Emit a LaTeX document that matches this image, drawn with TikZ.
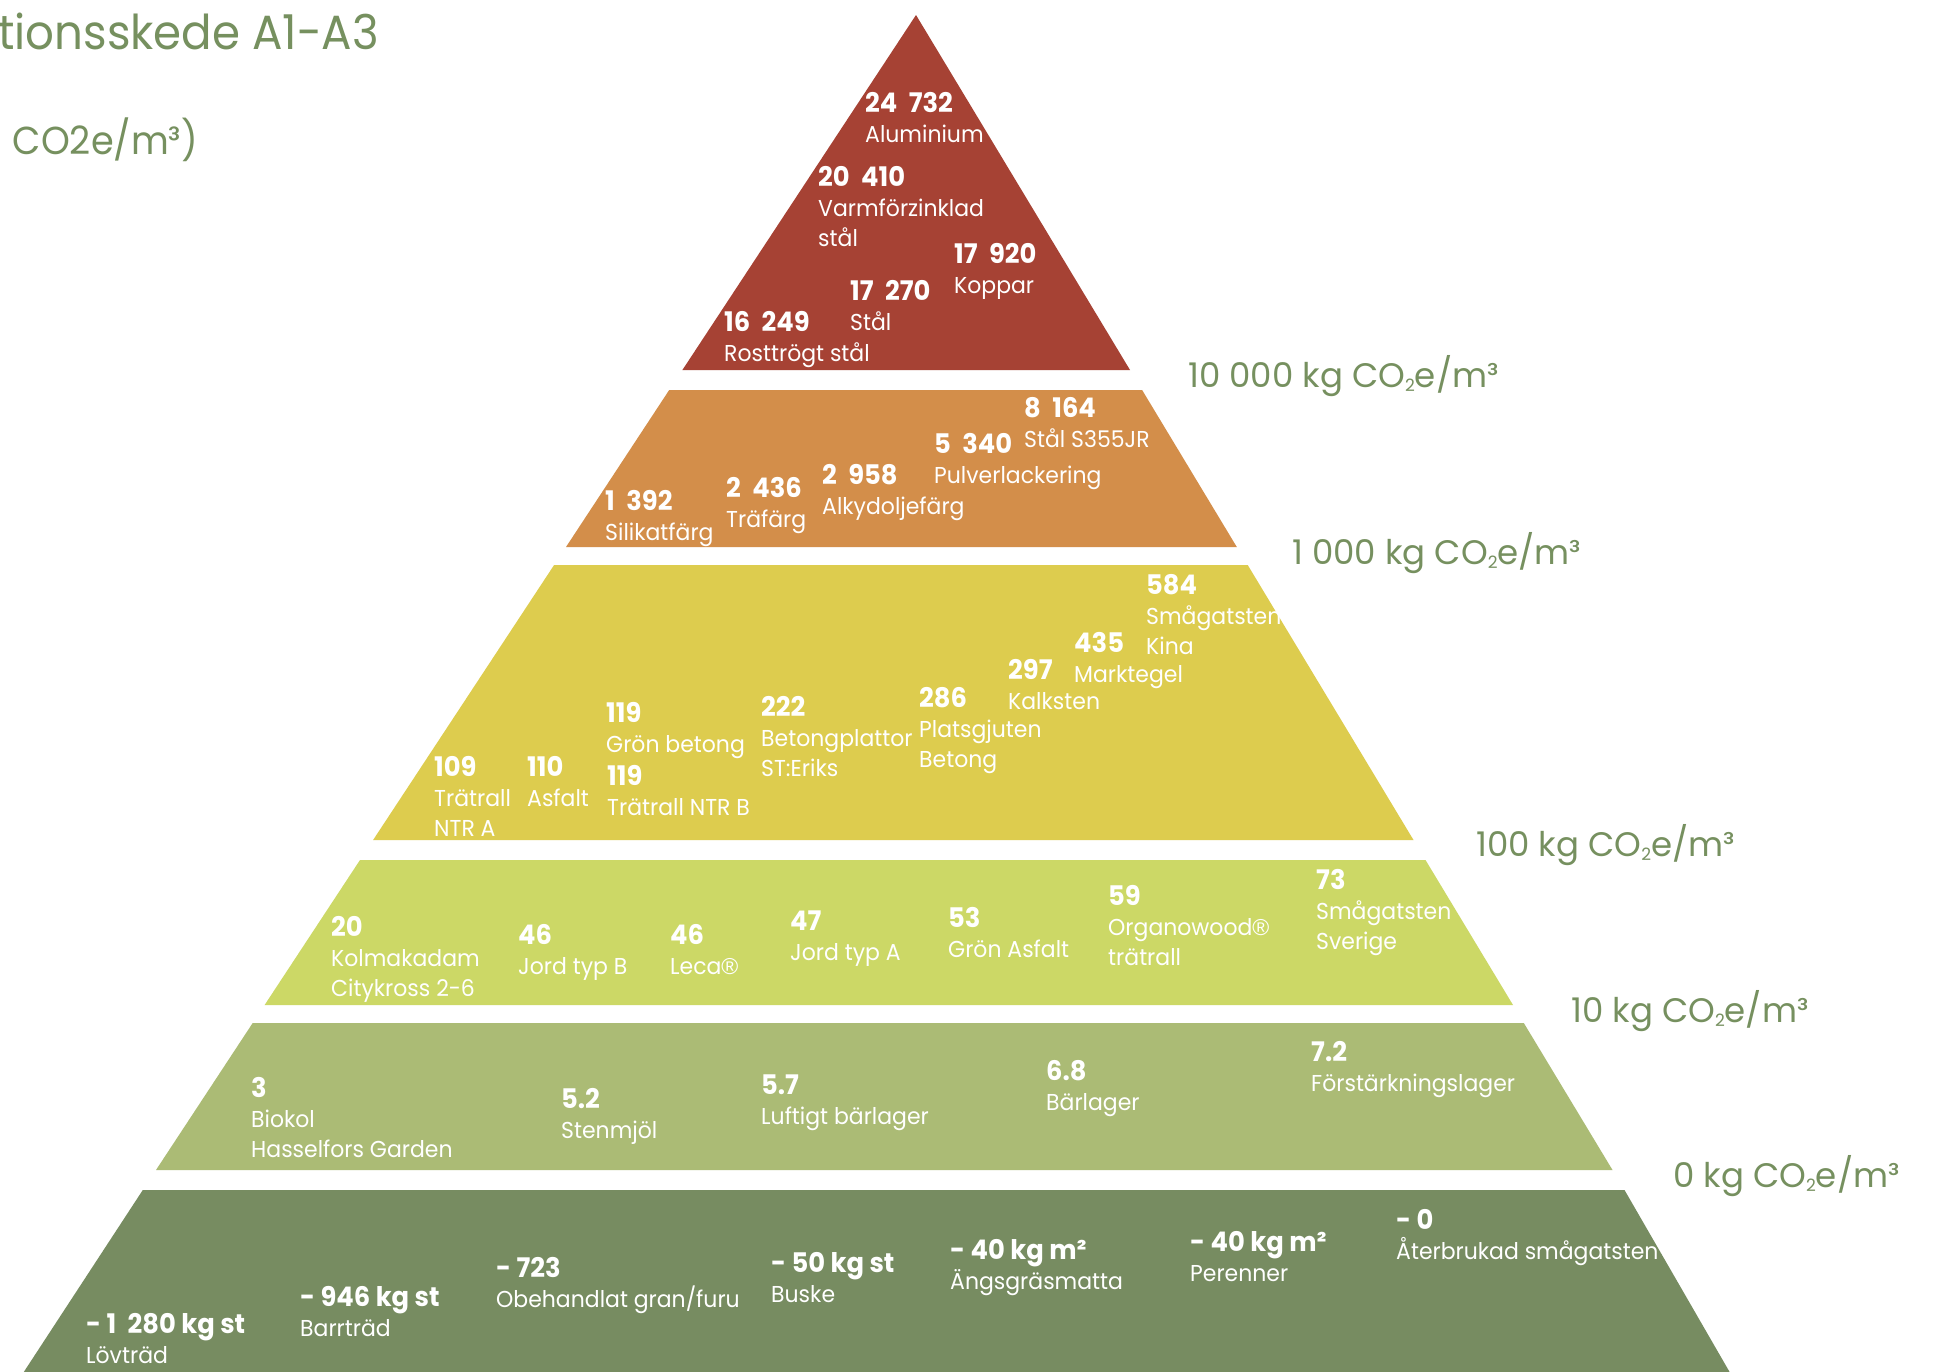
\documentclass[tikz,border=0pt]{standalone}
\usepackage{fontspec}
\setmainfont{Poppins}
\newfontfamily\namefont{Poppins}[FakeStretch=0.955]
\newfontfamily\titlefont{Poppins}[FakeStretch=0.94]
\newfontfamily\regfont{Liberation Sans}
\definecolor{cred}{HTML}{A64234}
\definecolor{corange}{HTML}{D38E4A}
\definecolor{cyellow}{HTML}{DDCC4E}
\definecolor{clight}{HTML}{CCD866}
\definecolor{csage}{HTML}{ABBB75}
\definecolor{cdark}{HTML}{778C61}
\definecolor{cgreentext}{HTML}{76905F}
\newcommand{\cotwo}{CO\raisebox{-0.12em}{\fontsize{17}{17}\selectfont 2}}
\newcommand{\ts}{\ \kern0.22em}
\newcommand{\nm}[1]{{\fontsize{27}{30}\selectfont\bfseries #1}}
\newcommand{\reg}{{\regfont ®}}
\begin{document}
\begin{tikzpicture}[x=1pt,y=-1pt,
  lbl/.style={anchor=north west, inner sep=0pt, align=left, text=white, font=\namefont\fontsize{23}{30}\selectfont},
  scalelbl/.style={anchor=west, inner sep=0pt, text=cgreentext, font=\fontsize{34}{40}\selectfont},
  titlelbl/.style={anchor=west, inner sep=0pt, text=cgreentext}]
\useasboundingbox (0,0) rectangle (1935,1371);
\clip (0,0) rectangle (1935,1371);
\fill[white] (0,0) rectangle (1935,1371);
% tiers
\fill[cred] (916,15) -- (1130,370) -- (682.4,370) -- cycle;
\fill[corange] (669.2,390) -- (1142.1,390) -- (1236.8,547) -- (566,547) -- cycle;
\fill[cyellow] (554.1,565) -- (1247.7,565) -- (1413.5,840) -- (373.1,840) -- cycle;
\fill[clight] (360,860) -- (1425.5,860) -- (1513,1005) -- (264.6,1005) -- cycle;
\fill[csage] (252.7,1023) -- (1523.8,1023) -- (1612.5,1170) -- (156,1170) -- cycle;
\fill[cdark] (142.8,1190) -- (1624.5,1190) -- (1740,1390) -- (12,1390) -- cycle;
% title
\node[titlelbl, font=\titlefont\fontsize{48}{58}\selectfont] (title) at (-2,31) {tionsskede A1-A3};
\node[titlelbl, font=\titlefont\fontsize{39}{46}\selectfont, anchor=east] (unit) at (198,141) {g CO2e/m³)};
% scale labels
\node[scalelbl] (s1) at (1188,376) {10 000 kg \cotwo e/m³};
\node[scalelbl] (s2) at (1292,553) {1 000 kg \cotwo e/m³};
\node[scalelbl] (s3) at (1476,845) {100 kg \cotwo e/m³};
\node[scalelbl] (s4) at (1571,1011) {10 kg \cotwo e/m³};
\node[scalelbl] (s5) at (1673,1176) {0 kg \cotwo e/m³};
% tier 1
\node[lbl] (a1) at (865,92) {\nm{24\ts 732}\\Aluminium};
\node[lbl] (a2) at (818,166) {\nm{20\ts 410}\\Varmförzinklad\\stål};
\node[lbl] (a3) at (954,243) {\nm{17\ts 920}\\Koppar};
\node[lbl] (a4) at (850,280) {\nm{17\ts 270}\\Stål};
\node[lbl] (a5) at (724,311) {\nm{16\ts 249}\\Rosttrögt stål};
% tier 2
\node[lbl] (b1) at (1024,397) {\nm{8\ts 164}\\Stål S355JR};
\node[lbl] (b2) at (934,433) {\nm{5\ts 340}\\Pulverlackering};
\node[lbl] (b3) at (822,464) {\nm{2\ts 958}\\Alkydoljefärg};
\node[lbl] (b4) at (726,477) {\nm{2\ts 436}\\Träfärg};
\node[lbl] (b5) at (605,490) {\nm{1\ts 392}\\Silikatfärg};
% tier 3
\node[lbl] (c1) at (1146,574) {\nm{584}\\Smågatsten\\Kina};
\node[lbl] (c2) at (1074,632) {\nm{435}\\Marktegel};
\node[lbl] (c3) at (1008,659) {\nm{297}\\Kalksten};
\node[lbl] (c4) at (919,687) {\nm{286}\\Platsgjuten\\Betong};
\node[lbl] (c5) at (761,696) {\nm{222}\\Betongplattor\\ST:Eriks};
\node[lbl] (c6) at (606,702) {\nm{119}\\Grön betong};
\node[lbl] (c7) at (607,765) {\nm{119}\\Trätrall NTR B};
\node[lbl] (c8) at (527,756) {\nm{110}\\Asfalt};
\node[lbl] (c9) at (434,756) {\nm{109}\\Trätrall\\NTR A};
% tier 4
\node[lbl] (d1) at (331,916) {\nm{20}\\Kolmakadam\\Citykross 2-6};
\node[lbl] (d2) at (518,924) {\nm{46}\\Jord typ B};
\node[lbl] (d3) at (670,924) {\nm{46}\\Leca\reg};
\node[lbl] (d4) at (790,911) {\nm{47}\\Jord typ A};
\node[lbl] (d5) at (948,907) {\nm{53}\\Grön Asfalt};
\node[lbl] (d6) at (1108,885) {\nm{59}\\Organowood\reg\\trätrall};
\node[lbl] (d7) at (1316,869) {\nm{73}\\Smågatsten\\Sverige};
% tier 5
\node[lbl] (e1) at (251,1077) {\nm{3}\\Biokol\\Hasselfors Garden};
\node[lbl] (e2) at (561,1088) {\nm{5.2}\\Stenmjöl};
\node[lbl] (e3) at (761,1075) {\nm{5.7}\\Luftigt bärlager};
\node[lbl] (e4) at (1046,1060) {\nm{6.8}\\Bärlager};
\node[lbl] (e5) at (1311,1041) {\nm{7.2}\\Förstärkningslager};
% tier 6
\node[lbl] (f1) at (86,1313) {\nm{- 1\ts 280 kg st}\\Lövträd};
\node[lbl] (f2) at (300,1286) {\nm{- 946 kg st}\\Barrträd};
\node[lbl] (f3) at (496,1257) {\nm{- 723}\\Obehandlat gran/furu};
\node[lbl] (f4) at (771,1252) {\nm{- 50 kg st}\\Buske};
\node[lbl] (f5) at (950,1239) {\nm{- 40 kg m²}\\Ängsgräsmatta};
\node[lbl] (f6) at (1190,1231) {\nm{- 40 kg m²}\\Perenner};
\node[lbl] (f7) at (1396,1209) {\nm{- 0}\\Återbrukad smågatsten};
\end{tikzpicture}
\end{document}
